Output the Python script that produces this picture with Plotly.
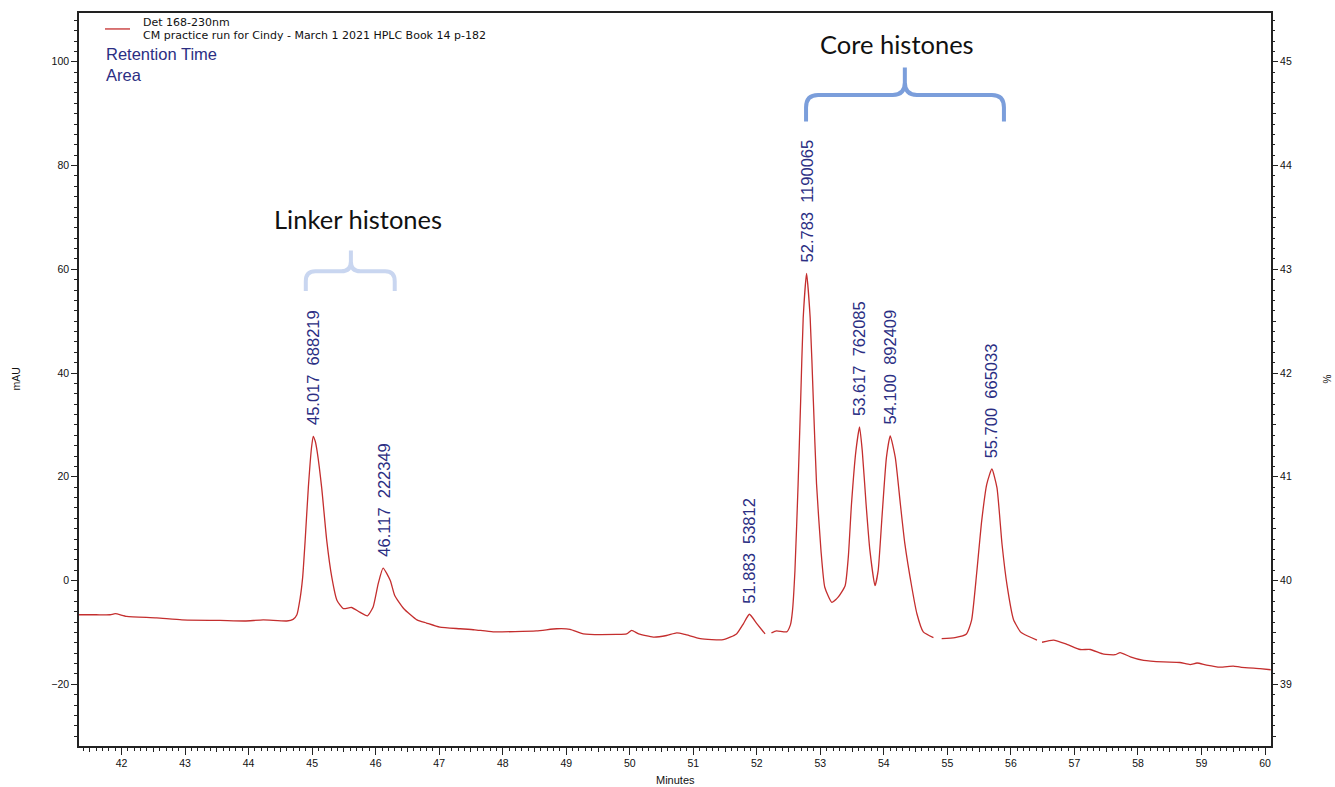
import plotly.graph_objects as go

# Chromatogram trace (retention time in minutes, absorbance in mAU); None marks a break in the line
time_min = [
    41.33, 41.60, 41.82, 41.90, 42.08, 42.55, 42.95, 43.55, 43.94, 44.23,
    44.60, 44.70, 44.76, 44.81, 44.85, 44.89, 44.94, 44.99, 45.017, 45.05,
    45.08, 45.15, 45.23, 45.31, 45.39, 45.49, 45.62, 45.75, 45.87, 45.96,
    46.04, 46.117, 46.23, 46.30, 46.44, 46.65, 46.80, 47.01, 47.33, 47.56,
    47.85, 48.53, 48.85, 49.06, 49.27, 49.79, 49.95, 50.03, 50.14, 50.37,
    50.58, 50.74, 50.87, 51.11, 51.47, 51.68, 51.79, 51.883, 52.00, 52.13,
    52.18, 52.23, 52.31, 52.47, 52.53, 52.56, 52.60, 52.65, 52.69, 52.73,
    52.783, 52.84, 52.89, 52.94, 53.01, 53.07, 53.18, 53.28, 53.39, 53.44,
    53.49, 53.56, 53.617, 53.66, 53.72, 53.78, 53.86, 53.91, 53.97, 54.04,
    54.100, 54.18, 54.26, 54.33, 54.44, 54.52, 54.62, 54.78, 54.84, 54.91,
    55.12, 55.30, 55.38, 55.46, 55.54, 55.62, 55.700, 55.78, 55.86, 55.94,
    56.04, 56.15, 56.20, 56.41, 56.45, 56.49, 56.67, 56.88, 57.09, 57.25,
    57.46, 57.64, 57.72, 57.88, 58.09, 58.40, 58.66, 58.82, 58.93, 59.08,
    59.29, 59.50, 59.61, 59.92, 60.09,
]
absorbance_mau = [
    -6.6, -6.6, -6.6, -6.4, -6.9, -7.2, -7.6, -7.7, -7.8, -7.6,
    -7.8, -7.5, -6.6, -3.5, 0.5, 7.7, 17.9, 25.6, 27.8, 26.8,
    24.8, 17.9, 7.7, 0.6, -3.8, -5.4, -5.2, -6.1, -6.8, -5.1,
    -0.6, 2.4, 0.0, -2.9, -5.4, -7.6, -8.2, -9.0, -9.3, -9.5,
    -9.9, -9.7, -9.3, -9.4, -10.3, -10.4, -10.3, -9.6, -10.3, -10.9,
    -10.6, -10.1, -10.4, -11.2, -11.4, -10.3, -8.3, -6.5, -8.3, -10.3,
    None, -10.1, -9.7, -9.9, -8.5, -6.0, 1.9, 18.6, 34.6, 50.6,
    59.2, 50.6, 34.6, 18.6, 5.8, -1.3, -4.2, -3.2, -1.0, 4.5,
    14.7, 25.0, 29.6, 25.0, 14.7, 5.8, -1.0, 1.9, 12.2, 23.7,
    27.9, 23.7, 14.7, 7.1, -1.3, -6.4, -9.9, -11.0, None, -11.2,
    -11.0, -10.3, -7.7, 1.3, 11.5, 18.6, 21.5, 17.9, 7.0, -1.0,
    -7.5, -9.9, -10.3, -11.5, None, -11.9, -11.5, -12.3, -13.3, -13.3,
    -14.2, -14.3, -13.9, -14.7, -15.4, -15.7, -15.8, -16.2, -15.9, -16.3,
    -16.7, -16.5, -16.7, -17.0, -17.2,
]

# Integrated peaks: retention time (min) and area
peak_rt = [45.017, 46.117, 51.883, 52.783, 53.617, 54.100, 55.700]
peak_area = [688219, 222349, 53812, 1190065, 762085, 892409, 665033]

# Axis tick values
x_ticks = list(range(42, 61))
y_ticks = [-20, 0, 20, 40, 60, 80, 100]
pct_ticks = [39, 40, 41, 42, 43, 44, 45]

detector_name = "Det 168-230nm"
run_name = "CM practice run for Cindy - March 1 2021 HPLC Book 14 p-182"

X_RANGE = [41.33, 60.094]
Y_RANGE = [-31.9, 109.4]
PCT_RANGE = [40 + Y_RANGE[0] / 20, 40 + Y_RANGE[1] / 20]

TRACE_RED = "#c42e2e"
NAVY = "#2b2e83"
AXIS = "#222222"
TICK_FONT = "Liberation Sans, Arial, sans-serif"
HEADER_FONT = "DejaVu Sans, sans-serif"
CAPTION_FONT = "Lato, Open Sans, sans-serif"

fig = go.Figure()

fig.add_trace(go.Scatter(
    x=time_min, y=absorbance_mau, mode="lines",
    line=dict(color=TRACE_RED, width=1.3, shape="spline", smoothing=0.5),
    connectgaps=False, name=detector_name, showlegend=False, hoverinfo="x+y",
))

# Empty helper traces so the secondary tick axes are drawn
for xa, ya in [("x2", "y2"), ("x", "y3"), ("x", "y4")]:
    fig.add_trace(go.Scatter(x=[], y=[], xaxis=xa, yaxis=ya, showlegend=False,
                             hoverinfo="skip"))

# Peak labels: retention time and area, rotated above each apex
for rt, area in zip(peak_rt, peak_area):
    apex = absorbance_mau[time_min.index(rt)]
    fig.add_annotation(
        x=rt, y=apex, xref="x", yref="y", text=f"{rt:.3f}  {area}",
        textangle=-90, showarrow=False, xanchor="center", yanchor="bottom",
        yshift=9, font=dict(family=TICK_FONT, size=16.5, color=NAVY),
    )


def brace_path(x0, x1, xc, y_end, y_h, y_tip, rx, ry):
    """Horizontal curly brace opening downward, in data units."""
    return (
        f"M {x0},{y_end} L {x0},{y_h - ry} Q {x0},{y_h} {x0 + rx},{y_h} "
        f"L {xc - rx},{y_h} Q {xc},{y_h} {xc},{y_h + ry} L {xc},{y_tip} "
        f"M {xc},{y_h + ry} Q {xc},{y_h} {xc + rx},{y_h} "
        f"L {x1 - rx},{y_h} Q {x1},{y_h} {x1},{y_h - ry} L {x1},{y_end}"
    )


# Group braces and their captions
fig.add_shape(type="path", xref="x", yref="y",
              path=brace_path(44.90, 46.30, 45.61, 55.8, 59.6, 63.6, 0.15, 1.9),
              line=dict(color="#c9d6f0", width=4))
fig.add_shape(type="path", xref="x", yref="y",
              path=brace_path(52.775, 55.89, 54.33, 88.5, 93.6, 98.9, 0.19, 2.4),
              line=dict(color="#7b9edb", width=4))

fig.add_annotation(x=45.72, y=69.6, xref="x", yref="y", text="Linker histones",
                   showarrow=False, yanchor="middle",
                   font=dict(family=CAPTION_FONT, size=25.5, color="#111111"))
fig.add_annotation(x=54.20, y=103.5, xref="x", yref="y", text="Core histones",
                   showarrow=False, yanchor="middle",
                   font=dict(family=CAPTION_FONT, size=25.5, color="#111111"))

# Legend entry: line sample and the two description lines
fig.add_shape(type="line", xref="paper", yref="paper",
              x0=(105 - 79) / 1192, x1=(130 - 79) / 1192,
              y0=(746 - 27) / 735, y1=(746 - 27) / 735,
              line=dict(color=TRACE_RED, width=1.3))
fig.add_annotation(x=(141 - 79) / 1192, y=(746 - 21) / 735, xref="paper", yref="paper",
                   text=detector_name, showarrow=False, xanchor="left", yanchor="middle",
                   font=dict(family=HEADER_FONT, size=11, color="#111"))
fig.add_annotation(x=(141 - 79) / 1192, y=(746 - 33.5) / 735, xref="paper", yref="paper",
                   text=run_name, showarrow=False, xanchor="left", yanchor="middle",
                   font=dict(family=HEADER_FONT, size=11, color="#111"))

# Header texts
fig.add_annotation(x=(104 - 79) / 1192, y=(746 - 52) / 735, xref="paper", yref="paper",
                   text="Retention Time", showarrow=False, xanchor="left", yanchor="middle",
                   font=dict(family=TICK_FONT, size=16.5, color=NAVY))
fig.add_annotation(x=(104 - 79) / 1192, y=(746 - 73) / 735, xref="paper", yref="paper",
                   text="Area", showarrow=False, xanchor="left", yanchor="middle",
                   font=dict(family=TICK_FONT, size=16.5, color=NAVY))

# Axis titles
fig.add_annotation(x=0, y=0.5, xref="paper", yref="paper", text="mAU", textangle=-90,
                   showarrow=False, xanchor="center", yanchor="middle", xshift=-64,
                   font=dict(family=TICK_FONT, size=10.5, color="#111"))
fig.add_annotation(x=1, y=0.5, xref="paper", yref="paper", text="%", textangle=-90,
                   showarrow=False, xanchor="center", yanchor="middle", xshift=56,
                   font=dict(family=TICK_FONT, size=10, color="#111"))
fig.add_annotation(x=0.5, y=0, xref="paper", yref="paper", text="Minutes",
                   showarrow=False, xanchor="center", yanchor="top", yshift=-26,
                   font=dict(family=TICK_FONT, size=11, color="#111"))

tick_font = dict(family=TICK_FONT, size=10.5, color="#111")

fig.update_layout(
    width=1335, height=787,
    margin=dict(l=79, r=64, t=11, b=41),
    paper_bgcolor="white", plot_bgcolor="white",
    showlegend=False,
    xaxis=dict(range=X_RANGE, tickvals=x_ticks, ticks="outside", ticklen=7,
               tickcolor=AXIS, tickwidth=1, tickfont=tick_font,
               showline=True, linecolor=AXIS, linewidth=1.5, mirror=True,
               showgrid=False, zeroline=False,
               minor=dict(dtick=0.1, tick0=0, ticks="outside", ticklen=3,
                          tickcolor=AXIS, showgrid=False)),
    xaxis2=dict(range=X_RANGE, overlaying="x", anchor="y", side="bottom",
                dtick=0.5, tick0=0, ticks="outside", ticklen=5, tickcolor=AXIS,
                showticklabels=False, showline=False, showgrid=False, zeroline=False),
    yaxis=dict(range=Y_RANGE, tickvals=y_ticks, ticks="outside", ticklen=6,
               tickcolor=AXIS, tickfont=tick_font,
               showline=True, linecolor=AXIS, linewidth=1.5, mirror=True,
               showgrid=False, zeroline=False,
               minor=dict(dtick=2, tick0=0, ticks="outside", ticklen=3,
                          tickcolor=AXIS, showgrid=False)),
    yaxis2=dict(range=PCT_RANGE, tickvals=pct_ticks, overlaying="y", side="right",
                anchor="x", ticks="outside", ticklen=6, tickcolor=AXIS,
                tickfont=tick_font, showline=False, showgrid=False, zeroline=False,
                minor=dict(dtick=0.1, tick0=0, ticks="outside", ticklen=3,
                           tickcolor=AXIS, showgrid=False)),
    yaxis3=dict(range=Y_RANGE, overlaying="y", side="left", anchor="x",
                dtick=10, tick0=0, ticks="outside", ticklen=4, tickcolor=AXIS,
                showticklabels=False, showline=False, showgrid=False, zeroline=False),
    yaxis4=dict(range=PCT_RANGE, overlaying="y", side="right", anchor="x",
                dtick=0.5, tick0=0, ticks="outside", ticklen=4, tickcolor=AXIS,
                showticklabels=False, showline=False, showgrid=False, zeroline=False),
)

fig.write_html("out.html")
